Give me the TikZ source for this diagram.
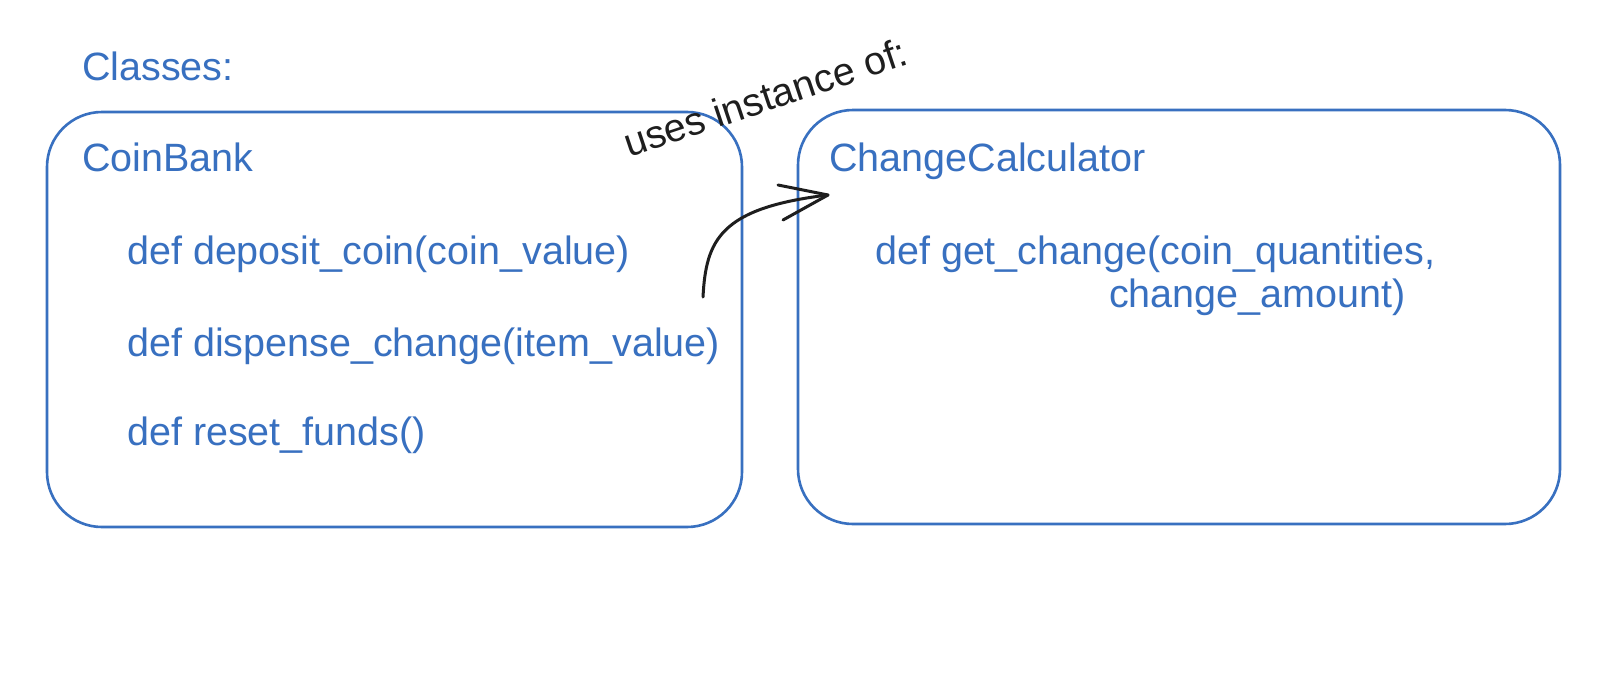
\documentclass[tikz,border=0pt]{standalone}
\usepackage{fontspec}
\setmainfont{Liberation Sans}
\definecolor{exblue}{RGB}{56,112,192}
\definecolor{exink}{RGB}{30,30,30}
\begin{document}
\begin{tikzpicture}[x=1pt,y=-1pt,
  classbox/.style={draw=exblue, line width=2.6pt, rounded corners=55pt},
  txt/.style={text=exblue, font=\fontsize{39.5}{49}\selectfont, inner sep=0pt, anchor=base west},
  lbl/.style={text=exink, font=\fontsize{39.5}{49}\selectfont, inner sep=0pt, anchor=base west},
  conn/.style={draw=exink, line width=3pt, line cap=round, line join=round}]
\useasboundingbox[fill=white] (0,0) rectangle (1620,688);
% boxes
\draw[classbox] (47,112) rectangle (742,527);
\draw[classbox] (798,110) rectangle (1560,524);
% texts
\node[txt] (classes) at (82,80) {Classes:};
\node[txt] (coinbank) at (82,171) {CoinBank};
\node[txt] (dep) at (127,264) {def deposit\_coin(coin\_value)};
\node[txt] (disp) at (127,356) {def dispense\_change(item\_value)};
\node[txt] (reset) at (127,445) {def reset\_funds()};
\node[txt] (cc) at (829,171) {ChangeCalculator};
\node[txt] (get) at (875,264) {def get\_change(coin\_quantities,};
\node[txt] (amt) at (1109,307) {change\_amount)};
% label
\node[lbl, rotate=18.5] (uses) at (629,158) {uses instance of:};
% connector
\coordinate (tail) at (703,297);
\coordinate (tip) at (828,195);
\coordinate (barbA) at (778,185);
\coordinate (barbB) at (783,220);
\draw[conn] (tail) .. controls (706,240) and (720,208) .. (tip);
\draw[conn] (barbA) -- (tip) -- (barbB);
\end{tikzpicture}
\end{document}
